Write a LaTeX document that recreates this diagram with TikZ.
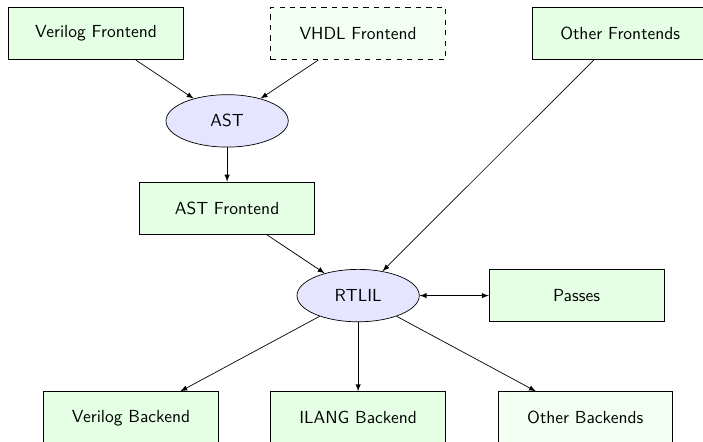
\documentclass[tikz,border=0pt]{standalone}
\usepackage{tikz}
\usetikzlibrary{arrows,shapes.geometric}

\begin{document}
\begin{tikzpicture}[font=\sffamily,
    proc/.style={draw, fill=green!10, rectangle, minimum height=30pt, minimum width=100pt},
    data/.style={draw, fill=blue!10, ellipse, minimum height=30pt, minimum width=70pt}]
  % Define page
  \useasboundingbox (-55pt,19.2pt) rectangle (347.4pt,-233.8pt);
  % Frontends
  \node[proc] (vlog) at (0pt,0pt) {Verilog Frontend};
  \node[proc, dashed, fill=green!5] (vhdl) at (150pt,0pt) {VHDL Frontend};
  \node[proc] (other) at (300pt,0pt) {Other Frontends};
  % Data and passes
  \node[data] (ast) at (75pt,-50pt) {AST};
  \node[proc] (astfe) at (75pt,-100pt) {AST Frontend};
  \node[data] (rtlil) at (150pt,-150pt) {RTLIL};
  \node[proc] (pass) at (275pt,-150pt) {Passes};
  % Backends
  \node[proc] (vlbe) at (20pt,-220pt) {Verilog Backend};
  \node[proc] (ilangbe) at (150pt,-220pt) {ILANG Backend};
  \node[proc, fill=green!5] (otherbe) at (280pt,-220pt) {Other Backends};
  % Draw arrows
  \draw[-latex] (vlog) -- (ast);
  \draw[-latex] (vhdl) -- (ast);
  \draw[-latex] (ast) -- (astfe);
  \draw[-latex] (astfe) -- (rtlil);
  \draw[-latex] (other) -- (rtlil);
  \draw[latex-latex] (rtlil) -- (pass);
  \draw[-latex] (rtlil) -- (vlbe);
  \draw[-latex] (rtlil) -- (ilangbe);
  \draw[-latex] (rtlil) -- (otherbe);
\end{tikzpicture}
\end{document}
